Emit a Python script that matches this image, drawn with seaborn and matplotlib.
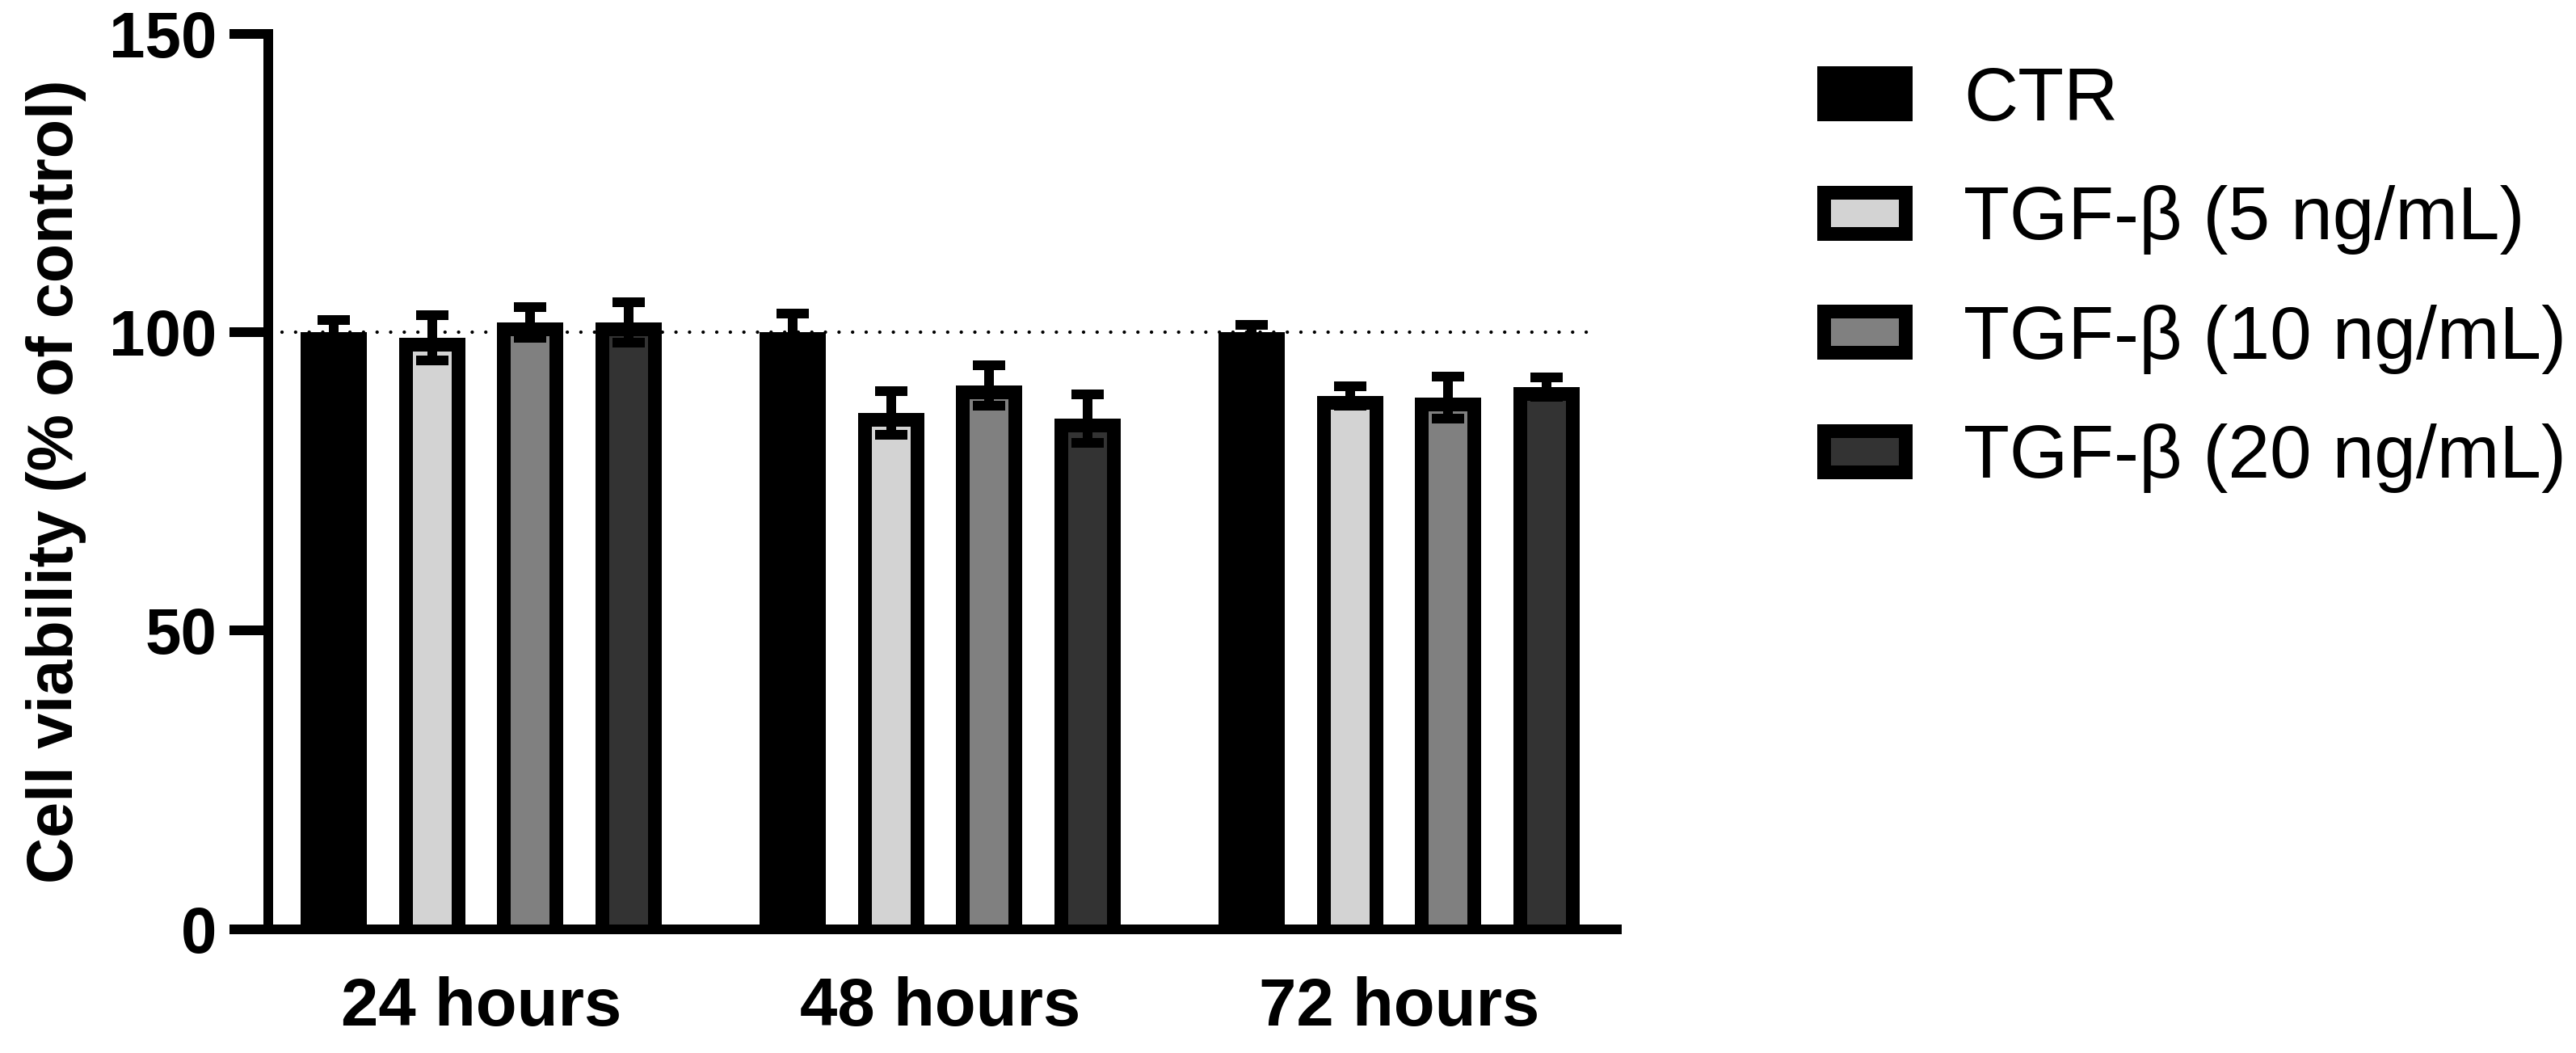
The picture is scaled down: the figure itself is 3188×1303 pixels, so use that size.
import matplotlib
matplotlib.use("Agg")
import matplotlib.pyplot as plt
import seaborn as sns
import pandas as pd
from matplotlib.patches import Patch
from matplotlib.transforms import TransformedPatchPath

# ---------------- data ----------------
times = ["24 hours", "48 hours", "72 hours"]
groups = ["CTR", "TGF-β (5 ng/mL)", "TGF-β (10 ng/mL)", "TGF-β (20 ng/mL)"]

ctr_mean = [100.0, 100.0, 100.0]
ctr_sem = [2.0, 3.1, 1.2]
tgf5_mean = [99.05, 86.5, 89.3]
tgf5_sem = [3.75, 3.65, 1.6]
tgf10_mean = [101.6, 91.1, 89.0]
tgf10_sem = [2.6, 3.4, 3.55]
tgf20_mean = [101.6, 85.5, 90.75]
tgf20_sem = [3.4, 4.05, 1.65]

colors = ["#000000", "#d3d3d3", "#808080", "#333333"]
yticks = [0, 50, 100, 150]
ref_value = 100

means = [ctr_mean, tgf5_mean, tgf10_mean, tgf20_mean]
sems = [ctr_sem, tgf5_sem, tgf10_sem, tgf20_sem]

rows = []
for g, m in zip(groups, means):
    for t, v in zip(times, m):
        rows.append({"time": t, "group": g, "value": v})
df = pd.DataFrame(rows)

# ---------------- style ----------------
sns.set_style("ticks")
plt.rcParams["font.family"] = ["Liberation Sans", "DejaVu Sans"]
for k in ["text.color", "axes.labelcolor", "xtick.color", "ytick.color", "axes.edgecolor"]:
    plt.rcParams[k] = "black"

W, H, DPI = 3188, 1303, 100
def px(p):
    return p * 72.0 / DPI

fig = plt.figure(figsize=(W / DPI, H / DPI), dpi=DPI)
ax = fig.add_axes([332 / W, 153.5 / H, 1669 / W, (1261.3 - 153.5) / H])

sns.barplot(data=df, x="time", y="value", hue="group", order=times,
            hue_order=groups, palette=colors, saturation=1,
            width=0.857, gap=0.325, errorbar=None, edgecolor="black",
            linewidth=px(34), legend=False, ax=ax, zorder=2)

# error bars from the bar geometry
for cont, sem in zip(ax.containers, sems):
    xs = [b.get_x() + b.get_width() / 2 for b in cont]
    hs = [b.get_y() + b.get_height() for b in cont]
    ax.errorbar(xs, hs, yerr=sem, fmt="none", ecolor="black",
                elinewidth=px(12), capsize=px(20), capthick=px(12), zorder=5)

# inner border only (stroke clipped to the bar), no border along the baseline
ext = 4.0
for p in ax.patches:
    top = p.get_y() + p.get_height()
    p.set_y(-ext)
    p.set_height(top + ext)
    p.set_clip_path(TransformedPatchPath(p))
    p.set_joinstyle("miter")

ax.axhline(ref_value, xmin=0.01, xmax=0.987, color="black", lw=px(4.3),
           linestyle=(0, (0.01, 3.9)), dash_capstyle="round", zorder=1)

ax.set_xlim(-0.464, 2.4745)
ax.set_ylim(0, 150)
ax.set_yticks(yticks)
sns.despine(ax=ax)
for s in ["left", "bottom"]:
    ax.spines[s].set_linewidth(px(12))
    ax.spines[s].set_zorder(6)

ax.tick_params(axis="y", length=px(48), width=px(12), pad=px(16), labelsize=57.6)
ax.tick_params(axis="x", length=0, pad=px(58), labelsize=60)
for lab in ax.get_yticklabels() + ax.get_xticklabels():
    lab.set_fontweight("bold")
ax.set_xlabel("")
ax.set_ylabel("Cell viability (% of control)", fontsize=57, fontweight="bold",
              labelpad=px(28))

handles = [Patch(facecolor=c, edgecolor="black", linewidth=px(17), joinstyle="miter")
           for c in colors]
fig.legend(handles, groups, loc="upper left",
           bbox_to_anchor=(2256.5 / W, 1 - 82 / H), frameon=False, fontsize=67,
           handlelength=101 / 93, handleheight=43 / 93, handletextpad=0.78,
           labelspacing=0.66, borderpad=0, borderaxespad=0)

fig.savefig("out.png", dpi=DPI)
